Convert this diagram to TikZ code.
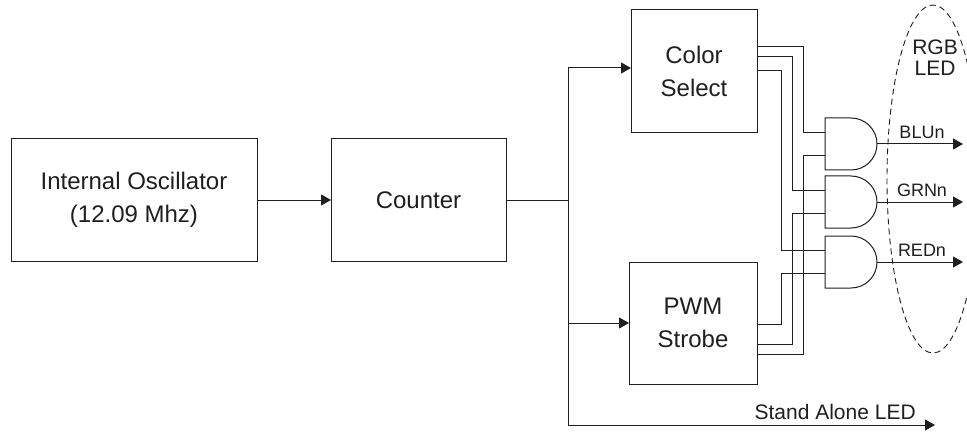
\documentclass[tikz,border=0pt]{standalone}
\usepackage{fontspec}
\setmainfont{Liberation Sans}
\usetikzlibrary{arrows.meta,calc}
\begin{document}
\begin{tikzpicture}[x=1pt,y=-1pt,
  ink/.style={draw=black!88, line width=1pt},
  blk/.style={ink, rectangle, inner sep=0pt, outer sep=0pt, align=center, font=\fontsize{24}{33}\selectfont, text=black!88},
  arr/.style={ink, -{Triangle[length=10pt,width=11pt]}},
  wire/.style={ink},
  lbl/.style={font=\fontsize{18}{20}\selectfont, text=black!88, inner sep=0pt},
  biglbl/.style={font=\fontsize{21}{21}\selectfont, text=black!88, inner sep=0pt, align=center},
  pics/andg/.style={code={
    \draw[ink] (0,-26) -- (26,-26) arc[start angle=-90,end angle=90,radius=26] -- (0,26) -- cycle;
    \coordinate (-in1) at (0,-11.5);
    \coordinate (-in2) at (0,11.5);
    \coordinate (-out) at (52,0);
  }}
]
\useasboundingbox (0,0) rectangle (967,433);
\clip (0,0) rectangle (967,433);

% blocks
\node[blk, minimum width=246pt, minimum height=123pt] (osc) at (134,200) {Internal Oscillator\\(12.09 Mhz)};
\node[blk, minimum width=175pt, minimum height=123pt] (cnt) at (418.5,200) {Counter};
\node[blk, minimum width=126pt, minimum height=123pt] (cs) at (694,71.5) {Color\\Select};
\node[blk, minimum width=128pt, minimum height=122pt] (pwm) at (693,323) {PWM\\Strobe};

% gates
\pic (blu) at (825,144) {andg};
\pic (grn) at (825,202) {andg};
\pic (red) at (825,262) {andg};

% main connections
\draw[arr] (osc.east) -- (cnt.west);
\coordinate (tr) at (568,200);
\coordinate (sa) at (935,425);
\draw[wire] (cnt.east) -- (tr);
\draw[arr] (tr) |- ($(cs.west)+(0,-3.5)$);
\draw[arr] (tr) |- (pwm.west);
\draw[arr] (tr) |- (sa) node[biglbl, pos=0.864, above=5pt] {Stand Alone LED};

% colour select to gates
\draw[wire] ($(cs.north east)+(0,37)$) -- ++(46,0) |- (blu-in1);
\draw[wire] ($(cs.north east)+(0,47)$) -- ++(35,0) |- (grn-in1);
\draw[wire] ($(cs.north east)+(0,61)$) -- ++(24,0) |- (red-in1);
% pwm to gates
\draw[wire] ($(pwm.north east)+(0,62)$) -- ++(24,0) |- (red-in2);
\draw[wire] ($(pwm.north east)+(0,82)$) -- ++(35,0) |- (grn-in2);
\draw[wire] ($(pwm.north east)+(0,92)$) -- ++(46,0) |- (blu-in2);

% outputs
\coordinate (bluo) at (963,144);
\coordinate (grno) at (963,202);
\coordinate (redo) at (963,262);
\draw[arr] (blu-out) -- (bluo) node[lbl, midway, above=5pt, xshift=2pt] {BLUn};
\draw[arr] (grn-out) -- (grno) node[lbl, midway, above=5pt, xshift=2pt] {GRNn};
\draw[arr] (red-out) -- (redo) node[lbl, midway, above=5pt, xshift=2pt] {REDn};

% RGB LED enclosure
\draw[draw=black!88, line width=0.9pt, dash pattern=on 6pt off 4pt] (933,179) ellipse[x radius=46, y radius=174];
\node[biglbl] (rgb) at (935,57.5) {RGB\\LED};
\end{tikzpicture}
\end{document}
